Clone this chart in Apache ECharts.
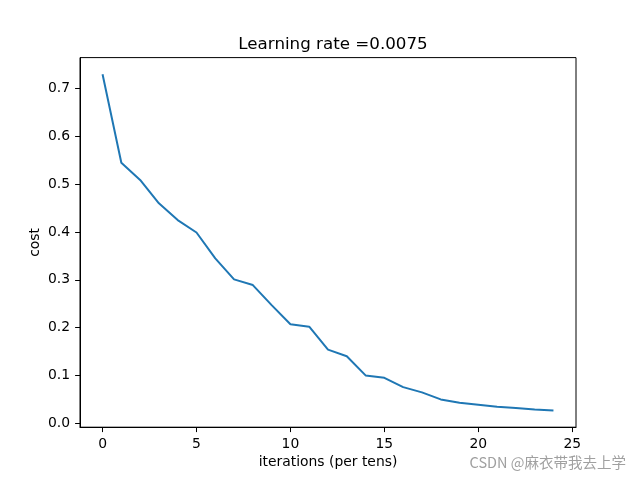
<!DOCTYPE html>
<html>
<head>
<meta charset="utf-8">
<script src="https://cdn.jsdelivr.net/npm/echarts@6/dist/echarts.min.js"></script>
<style>html,body{margin:0;padding:0;background:#fff}#c{width:640px;height:480px}</style>
</head>
<body>
<div id="c"></div>
<script>
const iterations = [0,1,2,3,4,5,6,7,8,9,10,11,12,13,14,15,16,17,18,19,20,21,22,23,24];
const costs = [0.730,0.545,0.509,0.460,0.425,0.399,0.345,0.301,0.289,0.247,0.207,0.202,0.154,0.140,0.100,0.095,0.0755,0.0644,0.0497,0.0428,0.0386,0.0344,0.0316,0.0288,0.0265];
const xTicks = [0,5,10,15,20,25];
const yTicks = [0,0.1,0.2,0.3,0.4,0.5,0.6,0.7];
const titleText = 'Learning rate =0.0075';
const xName = 'iterations (per tens)';
const yName = 'cost';
const watermark = 'CSDN @麻衣带我去上学';

const font = 'DejaVu Sans';
const chart = echarts.init(document.getElementById('c'));
chart.setOption({
  animation: false,
  backgroundColor: '#fff',
  title: {
    text: titleText, left: 328, top: 31, textAlign: 'center',
    textStyle: {fontFamily: font, fontSize: 16.7, fontWeight: 'normal', color: '#000'}
  },
  grid: {left: 80, right: 64, top: 57.6, bottom: 52.8, show: true, borderColor: '#000', borderWidth: 1, backgroundColor: 'transparent'},
  xAxis: {
    type: 'value', min: -1.2, max: 25.2,
    name: xName, nameLocation: 'middle', nameGap: 28, nameMoveOverlap: false,
    nameTextStyle: {fontFamily: font, fontSize: 13.9, color: '#000'},
    axisLine: {show: true, onZero: false, lineStyle: {color: '#000', width: 1}},
    splitLine: {show: false},
    axisTick: {show: true, length: 4.9, inside: false, customValues: xTicks, lineStyle: {color: '#000', width: 1}},
    axisLabel: {customValues: xTicks, margin: 10, fontFamily: font, fontSize: 13.9, color: '#000', showMinLabel: true, showMaxLabel: true}
  },
  yAxis: {
    type: 'value', min: -0.0084, max: 0.765,
    name: yName, nameLocation: 'middle', nameGap: 38, nameRotate: 90, nameMoveOverlap: false,
    nameTextStyle: {fontFamily: font, fontSize: 13.9, color: '#000'},
    axisLine: {show: true, onZero: false, lineStyle: {color: '#000', width: 1}},
    splitLine: {show: false},
    axisTick: {show: true, length: 4.9, inside: false, customValues: yTicks, lineStyle: {color: '#000', width: 1}},
    axisLabel: {customValues: yTicks, margin: 10, fontFamily: font, fontSize: 13.9, color: '#000',
      formatter: v => v.toFixed(1)}
  },
  series: [{
    type: 'line', data: iterations.map((x, i) => [x, costs[i]]),
    showSymbol: false, symbol: 'none',
    lineStyle: {color: '#1f77b4', width: 2}
  }],
  graphic: [{
    type: 'text', right: 14, top: 455,
    style: {text: watermark, fontFamily: 'Noto Sans CJK SC', fontSize: 14.5, fill: '#a0a0a0'}
  }]
});
</script>
</body>
</html>
